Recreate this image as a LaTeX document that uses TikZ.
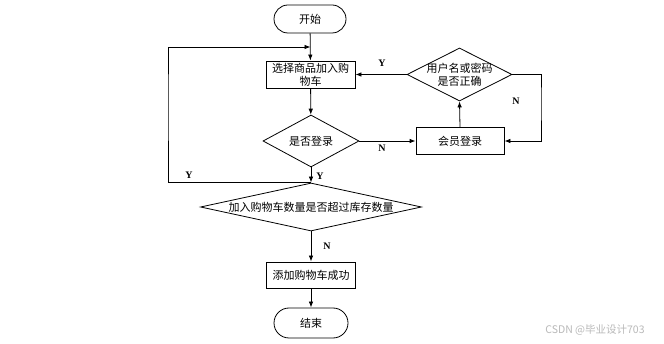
\documentclass[tikz,border=0pt]{standalone}
\usepackage{fontspec}
\setmainfont{Liberation Serif}
\newfontfamily\cjk{Noto Sans CJK SC}
\usetikzlibrary{shapes.geometric,arrows.meta}
\begin{document}
\begin{tikzpicture}[x=1pt,y=-1pt,
  font=\cjk\fontsize{11}{13}\selectfont,
  line width=0.8pt,
  >={Latex[length=6pt,width=4.5pt]},
  term/.style={draw, rounded corners=14pt, minimum width=72pt, minimum height=28pt, inner sep=0pt},
  proc/.style={draw, minimum width=89pt, minimum height=27pt, inner sep=0pt, align=center},
  dia/.style={draw, diamond, inner sep=0pt},
  yn/.style={font=\rmfamily\bfseries\fontsize{10}{12}\selectfont, inner sep=1pt}]
\fill[white] (0,0) rectangle (664,344);
\useasboundingbox (0,0) rectangle (664,344);

\node[term] (start) at (310,19) {开始};
\node[proc] (b1) at (310.5,74.5) {选择商品加入购\\物车};
\node[dia, minimum width=96pt, minimum height=52pt, label={center:是否登录}] (d1) at (311,141) {};
\node[proc, minimum width=88pt] (b2) at (460,141) {会员登录};
\node[dia, minimum width=105pt, minimum height=53pt, label={[align=center, font=\cjk\fontsize{11}{13}\selectfont]center:用户名或密码\\是否正确}] (d2) at (459.5,74.5) {};
\node[dia, minimum width=221pt, minimum height=48pt, label={center:加入购物车数量是否超过库存数量}] (d3) at (311,207) {};
\node[proc, minimum height=26pt] (b3) at (311,275) {添加购物车成功};
\node[term, minimum width=74pt, minimum height=30pt, rounded corners=15pt] (end) at (311,323) {结束};

\coordinate (j1) at (b1.north |- 0,47);
\coordinate (lft) at (168,100);
\coordinate (rgt) at (541,100);

\draw[->] (start) -- (b1);
\draw[->] (b1) -- (d1);
\draw[->] (d1.east) -- (b2.west);
\draw[->] (b2.north) -- (d2.south);
\draw[->] (d2.west) -- (b1.east);
\draw[->] (d2.east) -| (rgt) |- (b2.east);
\draw[->] (d1.south) -- (d3.north);
\draw[->] (d3.north) -| (lft) |- (j1);
\draw[->] (d3.south) -- (b3.north);
\draw[->] (b3.south) -- (end.north);

\node[yn] (ly1) at (382,63) {Y};
\node[yn] (ln1) at (516,101) {N};
\node[yn] (ln2) at (382,148) {N};
\node[yn] (ly2) at (320,176) {Y};
\node[yn] (ly3) at (189,175) {Y};
\node[yn] (ln3) at (327,246) {N};

\node[text=gray!55, font=\cjk\fontsize{10.5}{12}\selectfont] (wm) at (595,330) {CSDN @毕业设计703};
\end{tikzpicture}
\end{document}
